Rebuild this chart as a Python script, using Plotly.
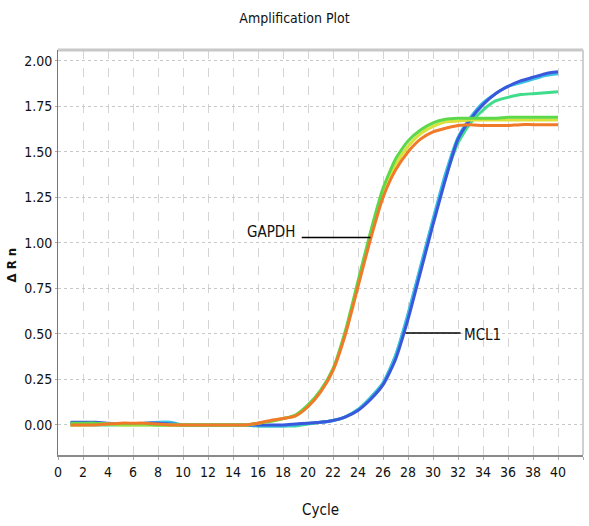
import plotly.graph_objects as go

cycles = list(range(1, 41))

gapdh_orange = [0.00, 0.00, 0.00, 0.005, 0.01, 0.01, 0.01, 0.005, 0.00, 0.00,
                0.00, 0.00, 0.00, 0.00, 0.00, 0.01, 0.025, 0.035, 0.05, 0.10,
                0.18, 0.30, 0.50, 0.76, 1.02, 1.25, 1.40, 1.50, 1.57, 1.61,
                1.63, 1.645, 1.65, 1.645, 1.645, 1.645, 1.65, 1.65, 1.65, 1.65]
gapdh_green = [0.01, 0.01, 0.01, 0.005, 0.005, 0.005, 0.005, 0.00, 0.00, 0.00,
               0.00, 0.00, 0.00, 0.00, 0.00, 0.01, 0.02, 0.035, 0.055, 0.11,
               0.19, 0.31, 0.52, 0.79, 1.06, 1.30, 1.46, 1.56, 1.62, 1.66,
               1.68, 1.685, 1.685, 1.685, 1.685, 1.69, 1.69, 1.69, 1.69, 1.69]
gapdh_yellow = [0.00, 0.00, 0.005, 0.005, 0.00, 0.00, 0.00, 0.00, 0.00, 0.00,
                0.00, 0.00, 0.00, 0.00, 0.00, 0.01, 0.02, 0.035, 0.05, 0.105,
                0.185, 0.30, 0.51, 0.77, 1.04, 1.28, 1.43, 1.53, 1.60, 1.64,
                1.665, 1.67, 1.675, 1.675, 1.675, 1.675, 1.675, 1.675, 1.675, 1.675]
mcl1_blue = [0.015, 0.015, 0.015, 0.01, 0.005, 0.005, 0.01, 0.01, 0.005, 0.00,
             0.00, 0.00, 0.00, 0.00, 0.00, 0.00, 0.00, 0.00, 0.005, 0.01,
             0.015, 0.025, 0.045, 0.08, 0.14, 0.22, 0.36, 0.58, 0.84, 1.10,
             1.35, 1.57, 1.68, 1.76, 1.82, 1.86, 1.89, 1.91, 1.93, 1.94]
mcl1_cyan = [0.01, 0.01, 0.01, 0.005, 0.005, 0.005, 0.01, 0.015, 0.015, 0.00,
             0.00, 0.00, 0.00, 0.00, 0.00, -0.005, -0.005, -0.005, 0.00, 0.01,
             0.015, 0.025, 0.045, 0.085, 0.15, 0.23, 0.38, 0.61, 0.87, 1.13,
             1.38, 1.58, 1.69, 1.77, 1.82, 1.86, 1.88, 1.90, 1.92, 1.93]
mcl1_teal = [0.00, 0.00, 0.00, 0.00, 0.00, 0.00, 0.00, 0.00, 0.00, 0.00,
             0.00, 0.00, 0.00, 0.00, 0.00, -0.005, -0.005, -0.005, -0.005, 0.005,
             0.015, 0.025, 0.045, 0.085, 0.15, 0.23, 0.38, 0.60, 0.86, 1.12,
             1.36, 1.55, 1.66, 1.73, 1.78, 1.80, 1.815, 1.82, 1.825, 1.83]

series = [
    ("MCL1", mcl1_teal, "#3fdc8c"),
    ("MCL1", mcl1_cyan, "#3cc0e4"),
    ("MCL1", mcl1_blue, "#3a58dc"),
    ("GAPDH", gapdh_yellow, "#d8e23a"),
    ("GAPDH", gapdh_green, "#5cd84a"),
    ("GAPDH", gapdh_orange, "#f07a2a"),
]

x_ticks = list(range(0, 43, 2))
y_ticks = [0.0, 0.25, 0.5, 0.75, 1.0, 1.25, 1.5, 1.75, 2.0]
y_tick_labels = ["0.00", "0.25", "0.50", "0.75", "1.00", "1.25", "1.50", "1.75", "2.00"]

FONT = "DejaVu Sans Condensed, Liberation Sans Narrow, Arial Narrow, sans-serif"

fig = go.Figure()
for name, vals, color in series:
    fig.add_trace(go.Scatter(
        x=cycles, y=vals, mode="lines", name=name,
        line=dict(color=color, width=3, shape="spline", smoothing=0.6),
        showlegend=False, hoverinfo="x+y+name"))

# label pointer lines (anchored in data coordinates)
fig.add_trace(go.Scatter(x=[19.5, 25.0], y=[1.03, 1.03], mode="lines",
                         line=dict(color="black", width=1.5), showlegend=False, hoverinfo="skip"))
fig.add_trace(go.Scatter(x=[27.8, 32.2], y=[0.505, 0.505], mode="lines",
                         line=dict(color="black", width=1.5), showlegend=False, hoverinfo="skip"))

fig.add_annotation(x=19.1, y=1.06, text="GAPDH", showarrow=False, xanchor="right", yanchor="middle",
                   font=dict(family=FONT, size=15, color="#111"))
fig.add_annotation(x=32.3, y=0.495, text="MCL1", showarrow=False, xanchor="left", yanchor="middle",
                   font=dict(family=FONT, size=15, color="#111"))

# y-axis title placed as rotated annotation
fig.add_annotation(xref="paper", yref="paper", x=-0.088, y=0.47, text="<b>Δ R n</b>",
                   textangle=-90, showarrow=False, xanchor="center", yanchor="middle",
                   font=dict(family=FONT, size=13, color="#111"))

fig.update_layout(
    width=589, height=526,
    margin=dict(l=58, r=6, t=50, b=71),
    paper_bgcolor="white", plot_bgcolor="white",
    title=dict(text="Amplification Plot", x=0.5, xanchor="center", y=0.965, yanchor="middle",
               font=dict(family=FONT, size=14, color="#111")),
    font=dict(family=FONT, size=14, color="#111"),
)
fig.update_xaxes(
    range=[0, 42], tickvals=x_ticks, ticktext=[str(t) for t in x_ticks],
    showgrid=True, gridcolor="#d4d4d4", griddash="dash", gridwidth=1,
    showline=True, linecolor="#8a8a8a", linewidth=2, mirror=False,
    ticks="outside", ticklen=3, tickcolor="#aaaaaa",
    zeroline=False,
    title=dict(text="Cycle", font=dict(family=FONT, size=15, color="#111"), standoff=26),
    tickfont=dict(family=FONT, size=14, color="#111"),
)
fig.update_yaxes(
    range=[-0.165, 2.06], tickvals=y_ticks, ticktext=y_tick_labels,
    showgrid=True, gridcolor="#c8c8c8", griddash="dot", gridwidth=1,
    showline=True, linecolor="#777777", linewidth=1,
    ticks="outside", ticklen=2, tickcolor="#aaaaaa",
    zeroline=False,
    tickfont=dict(family=FONT, size=14, color="#111"),
)

# top and right frame lines
fig.add_shape(type="line", xref="paper", yref="paper", x0=0, x1=1, y0=1, y1=1,
              line=dict(color="#c8c8c8", width=3))
fig.add_shape(type="line", xref="paper", yref="paper", x0=1, x1=1, y0=0, y1=1,
              line=dict(color="#d0d0d0", width=2))

fig.write_html("out.html")
